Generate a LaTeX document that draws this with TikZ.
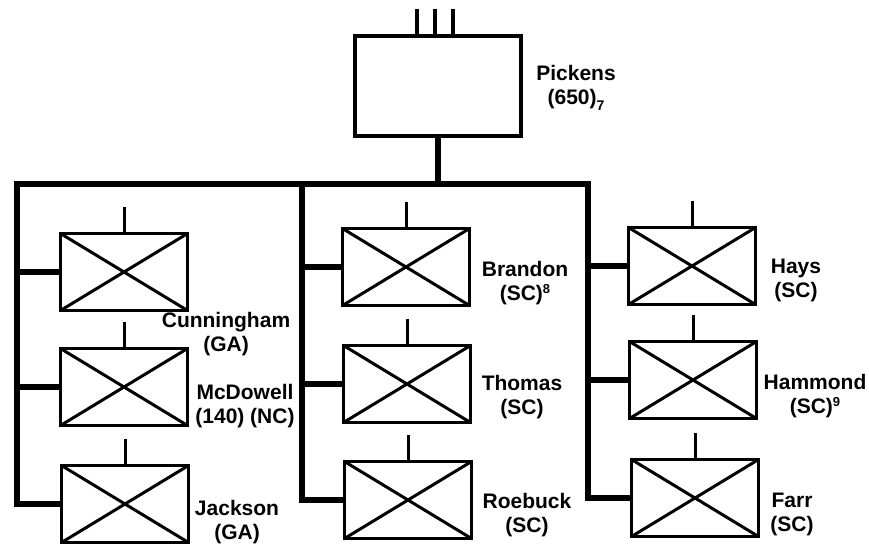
\documentclass[tikz,border=0pt]{standalone}
\usepackage{fontspec}
\setmainfont{Liberation Sans}
\newcommand\hsup[1]{\raisebox{0.35em}[0pt][0pt]{\fontsize{13}{13}\selectfont #1}}
\newcommand\hsub[1]{\raisebox{-0.3em}[0pt][0pt]{\fontsize{14}{14}\selectfont #1}}

\begin{document}
\begin{tikzpicture}[x=1pt,y=-1pt,
 unit/.style={draw,line width=3.8pt,minimum width=127pt,minimum height=77pt,inner sep=0pt,
  path picture={\draw[line width=3pt]
   (path picture bounding box.north west) -- (path picture bounding box.south east)
   (path picture bounding box.south west) -- (path picture bounding box.north east);}},
 hq/.style={draw,line width=4pt,minimum width=166pt,minimum height=100pt,inner sep=0pt},
 bus/.style={line width=6.8pt},
 stub/.style={line width=3pt},
 lbl/.style={align=center,inner sep=0pt,font=\bfseries\fontsize{21}{24}\selectfont}]
\useasboundingbox (0,0) rectangle (869,550);
\node[hq] (pickens) at (438,86) {};
\node[unit] (cunningham) at (124,272) {};
\node[unit] (mcdowell) at (124,387) {};
\node[unit] (jackson) at (125,504) {};
\node[unit] (brandon) at (406,267) {};
\node[unit] (thomas) at (407,384) {};
\node[unit] (roebuck) at (408,500) {};
\node[unit] (hays) at (692,266) {};
\node[unit] (hammond) at (693,380) {};
\node[unit] (farr) at (695,498) {};
\coordinate (busL) at (17,184);
\coordinate (busM) at (302,184);
\coordinate (busR) at (588,184);
\draw[bus] (jackson.west) -| (busL) -- (busR) |- (farr.west);
\draw[bus] (busM) |- (roebuck.west);
\draw[bus] (pickens.south) -- (pickens.south |- busM);
\foreach \b/\c in {cunningham/busL,mcdowell/busL,brandon/busM,thomas/busM,hays/busR,hammond/busR}
  \draw[bus] (\c |- \b.west) -- (\b.west);
\foreach \b in {cunningham,mcdowell,jackson,brandon,thomas,roebuck,hays,hammond,farr}
  \draw[stub] (\b.north) -- ++(0,-25);
\foreach \dx in {-21,-3,15}
  \draw[stub,line width=3.5pt] ([xshift=\dx pt]pickens.north) -- ++(0,-25);
\node[lbl] (pickensT) at (576,87) {Pickens\\(650)\hsub{7}};
\node[lbl] (cunninghamT) at (226,334) {Cunningham\\(GA)};
\node[lbl] (mcdowellT) at (245,406) {McDowell\\(140) (NC)};
\node[lbl] (jacksonT) at (237,522) {Jackson\\(GA)};
\node[lbl] (brandonT) at (525,283) {Brandon\\(SC)\hsup{8}};
\node[lbl] (thomasT) at (522,397) {Thomas\\(SC)};
\node[lbl] (roebuckT) at (527,515) {Roebuck\\(SC)};
\node[lbl] (haysT) at (796,280) {Hays\\(SC)};
\node[lbl] (hammondT) at (815,396) {Hammond\\(SC)\hsup{9}};
\node[lbl] (farrT) at (792,514) {Farr\\(SC)};
\end{tikzpicture}
\end{document}
